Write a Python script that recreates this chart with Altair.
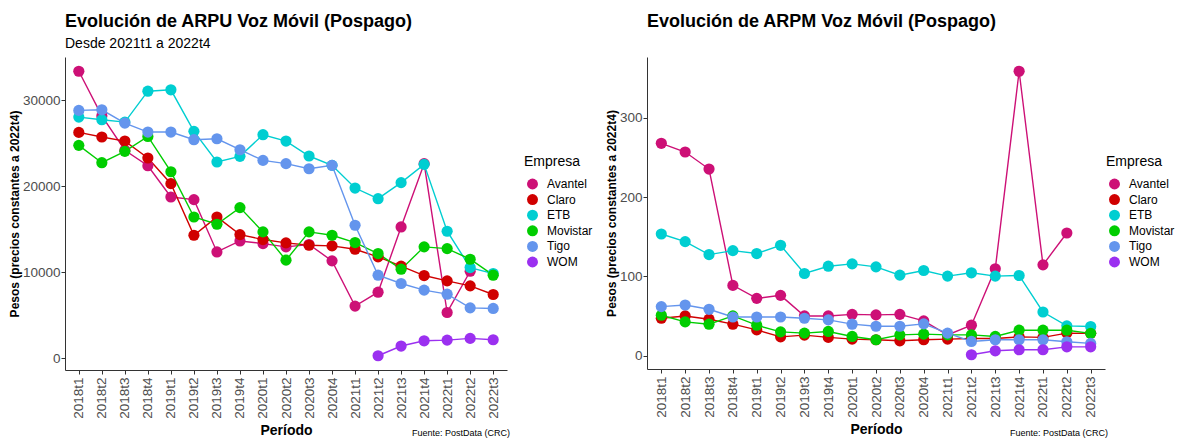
import altair as alt
import pandas as pd

periods = ["2018t1", "2018t2", "2018t3", "2018t4", "2019t1", "2019t2", "2019t3", "2019t4",
           "2020t1", "2020t2", "2020t3", "2020t4", "2021t1", "2021t2", "2021t3", "2021t4",
           "2022t1", "2022t2", "2022t3"]
companies = ["Avantel", "Claro", "ETB", "Movistar", "Tigo", "WOM"]
colors = ["#CD1076", "#D00000", "#00CED1", "#00CD00", "#6495ED", "#9B30F0"]

# ARPU (pesos)
arpu_avantel = [33400, 28200, 24200, 22400, 18760, 18450, 12360, 13640, 13330, 12950, 13220, 11320,
                6050, 7670, 15270, 22640, 5310, 10110, None]
arpu_claro = [26280, 25740, 25270, 23300, 20310, 14300, 16430, 14380, 13800, 13410, 13140, 13060,
              12670, 11780, 10700, 9610, 8990, 8410, 7400]
arpu_etb = [28060, 27750, 27480, 31080, 31240, 26400, 22830, 23490, 26010, 25270, 23530, 22440,
            19800, 18560, 20430, 22560, 14770, 10540, 9840]
arpu_movistar = [24770, 22750, 24070, 25810, 21700, 16430, 15580, 17520, 14690, 11400, 14690, 14300,
                 13450, 12170, 10350, 12950, 12750, 11510, 9650]
arpu_tigo = [28840, 28910, 27360, 26320, 26320, 25430, 25540, 24260, 23020, 22640, 22050, 22440,
             15470, 9650, 8680, 7910, 7440, 5850, 5780]
arpu_wom = [None] * 13 + [270, 1400, 2010, 2090, 2290, 2130]

# ARPM (pesos)
arpm_avantel = [268, 257, 235.5, 88.6, 72.2, 76, 50, 50, 52, 51.3, 52, 43.7,
                26, 38.3, 109.5, 359, 114.5, 154.7, None]
arpm_claro = [47.1, 50, 45.9, 39.6, 32.4, 23.6, 25.8, 22.9, 20.7, 19.9, 18.6, 19.9,
              20.7, 21.6, 21.6, 23.6, 22.9, 28.3, 28]
arpm_etb = [153.5, 143.8, 127.5, 132.5, 128.8, 139.2, 103.6, 112.8, 115.8, 112, 101.5, 107.4,
            100.3, 104.5, 100.3, 101.1, 55, 37.5, 36.7]
arpm_movistar = [50.9, 42.5, 39.6, 50, 38.3, 29.9, 28.3, 30.4, 24.1, 19.9, 26.1, 27,
                 26.1, 26.1, 24.1, 32, 32, 32, 28]
arpm_tigo = [61.8, 63.8, 58.4, 48.7, 48.7, 48.7, 47.1, 45, 39.6, 37, 37, 40,
             28.3, 17.8, 19.9, 19.9, 19.9, 17.4, 15.3]
arpm_wom = [None] * 13 + [1, 6, 7.3, 7.3, 11, 11]

FONT = "Liberation Sans"
CAPTION = "Fuente: PostData (CRC)"


def long_df(series):
    rows = []
    for comp, vals in zip(companies, series):
        for p, v in zip(periods, vals):
            if v is not None:
                rows.append({"Periodo": p, "Empresa": comp, "Valor": v})
    return pd.DataFrame(rows)


df_arpu = long_df([arpu_avantel, arpu_claro, arpu_etb, arpu_movistar, arpu_tigo, arpu_wom])
df_arpm = long_df([arpm_avantel, arpm_claro, arpm_etb, arpm_movistar, arpm_tigo, arpm_wom])


def panel(df, title, subtitle, domain, ticks, width, height, leg_x, leg_y, cap_dy):
    base = alt.Chart(df).encode(
        x=alt.X("Periodo:O", sort=periods, title="Período",
                scale=alt.Scale(type="point", padding=0.6),
                axis=alt.Axis(labelAngle=-90, labelFontSize=13.5, labelColor="#4D4D4D",
                              titleFontSize=14, titleFontWeight="bold", titleColor="black",
                              titlePadding=5, tickSize=4, labelPadding=3)),
        y=alt.Y("Valor:Q", title="Pesos (precios constantes a 2022t4)",
                scale=alt.Scale(domain=domain, nice=False, zero=False),
                axis=alt.Axis(values=ticks, format="d", labelFontSize=13.5, labelColor="#4D4D4D",
                              titleFontSize=12, titleFontWeight="bold", titleColor="black",
                              titlePadding=1, tickSize=4, labelPadding=1, grid=False)),
        color=alt.Color("Empresa:N", scale=alt.Scale(domain=companies, range=colors),
                        legend=alt.Legend(title="Empresa", orient="none", legendX=leg_x, legendY=leg_y,
                                          titleFontSize=14, titleFontWeight="normal", titleColor="black",
                                          labelFontSize=12, labelColor="black", symbolType="circle",
                                          symbolSize=120, symbolStrokeWidth=0, rowPadding=3.6,
                                          titlePadding=9, labelOffset=8.5, symbolOffset=2.5)),
    )
    lines = base.mark_line(strokeWidth=1.4)
    points = base.mark_point(filled=True, size=125, opacity=1)
    cap = alt.Chart(pd.DataFrame({"t": [CAPTION]})).mark_text(
        align="right", baseline="bottom", fontSize=9, font=FONT, color="black"
    ).encode(text="t:N", x=alt.value(width + 3), y=alt.value(height + cap_dy))
    return alt.layer(lines, points, cap).properties(
        width=width, height=height,
        title=alt.TitleParams(text=title, subtitle=subtitle, anchor="start", frame="group",
                              fontSize=18, fontWeight="bold", color="black", font=FONT,
                              subtitleFontSize=14, subtitleColor="black", subtitleFont=FONT,
                              subtitlePadding=6, offset=6),
    )


left = panel(df_arpu, "Evolución de ARPU Voz Móvil (Pospago)", "Desde 2021t1 a 2022t4",
             [-1390, 35060], [0, 10000, 20000, 30000], 442, 313, 459, 98, 68)
right = panel(df_arpm, "Evolución de ARPM Voz Móvil (Pospago)", " ",
              [-17, 377], [0, 100, 200, 300], 458, 312, 459, 98, 69)

chart = alt.hconcat(left, right, spacing=12).resolve_scale(color="independent").resolve_legend(
    color="independent"
).configure(font=FONT, padding={"left": 0, "top": 5, "right": 0, "bottom": 0}).configure_view(
    stroke=None
).configure_axis(
    domainColor="#333333", tickColor="#333333", domainWidth=1, grid=False
)

chart.save("out.html", embed_options={"renderer": "svg", "actions": False})
